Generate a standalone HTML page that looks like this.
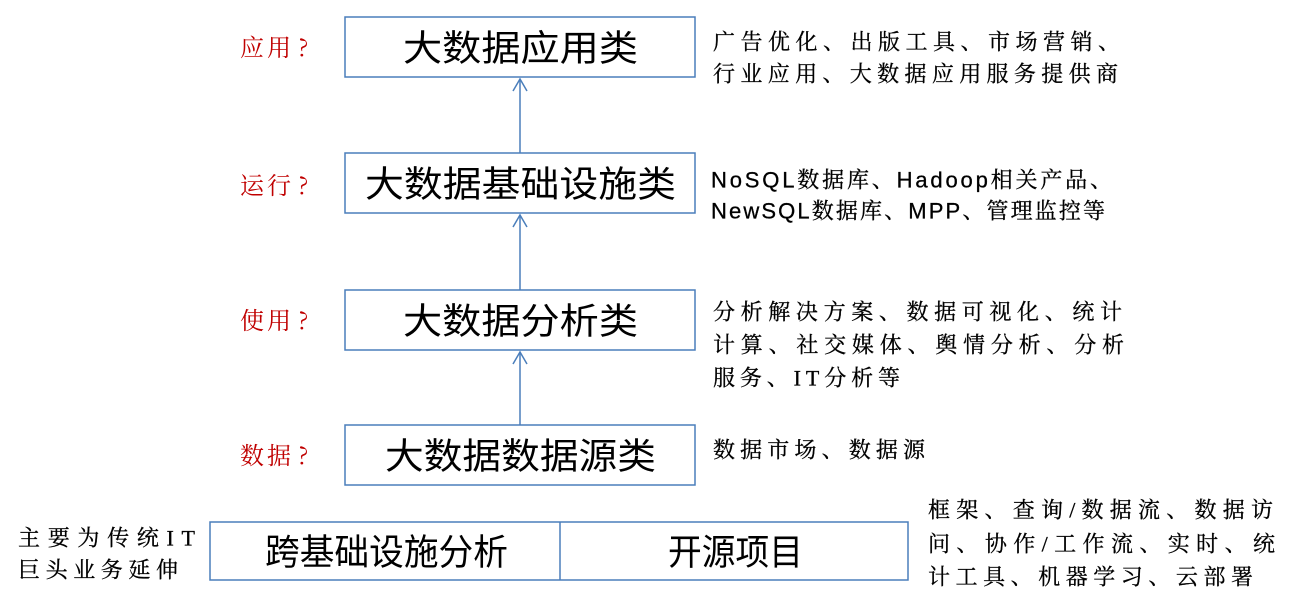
<!DOCTYPE html>
<html><head><meta charset="utf-8"><style>
html,body{margin:0;padding:0;background:#fff;width:1312px;height:599px;overflow:hidden}
svg{display:block}
.s{font-family:"Liberation Serif","Noto Serif CJK SC",serif;font-size:22px;fill:#000;stroke:#000;stroke-width:0.3}
.b{font-family:"Liberation Sans","Noto Sans CJK SC",sans-serif;font-size:36px;fill:#000}
.r{font-family:"Noto Serif CJK SC",serif;font-size:24px;fill:#c00000}
.m{font-family:"Liberation Sans","Noto Serif CJK SC",sans-serif;font-size:22px;fill:#000;stroke:#000;stroke-width:0.3}
</style></head><body>
<svg width="1312" height="599" xmlns="http://www.w3.org/2000/svg">
<g fill="none" stroke="#4a7ebb" stroke-width="1.5">
<rect x="345" y="17" width="350" height="60"/>
<rect x="345" y="153" width="350" height="60"/>
<rect x="345" y="290" width="350" height="60"/>
<rect x="345" y="425" width="350" height="60"/>
<rect x="210" y="522" width="698" height="58"/>
<line x1="560" y1="522" x2="560" y2="580"/>
<line x1="520" y1="153" x2="520" y2="79"/>
<line x1="520" y1="290" x2="520" y2="215"/>
<line x1="520" y1="425" x2="520" y2="352"/>
<polyline points="513,91 520,79 527,91"/>
<polyline points="513,227 520,215 527,227"/>
<polyline points="513,364 520,352 527,364"/>
</g>
<g dominant-baseline="central">
<text class="b" x="403" y="48" textLength="235" lengthAdjust="spacingAndGlyphs">大数据应用类</text>
<text class="b" x="365" y="184" textLength="311" lengthAdjust="spacingAndGlyphs">大数据基础设施类</text>
<text class="b" x="403" y="321" textLength="235" lengthAdjust="spacingAndGlyphs">大数据分析类</text>
<text class="b" x="385" y="456" textLength="271" lengthAdjust="spacingAndGlyphs">大数据数据源类</text>
<text class="b" x="265" y="552" textLength="243" lengthAdjust="spacingAndGlyphs">跨基础设施分析</text>
<text class="b" x="668" y="552" textLength="135" lengthAdjust="spacingAndGlyphs">开源项目</text>
<text class="r" y="45"><tspan x="240">应</tspan><tspan x="267">用</tspan><tspan x="298">?</tspan></text>
<text class="r" y="183"><tspan x="240">运</tspan><tspan x="267">行</tspan><tspan x="298">?</tspan></text>
<text class="r" y="318"><tspan x="240">使</tspan><tspan x="267">用</tspan><tspan x="298">?</tspan></text>
<text class="r" y="453"><tspan x="240">数</tspan><tspan x="267">据</tspan><tspan x="298">?</tspan></text>
<text class="s" x="713" y="42" textLength="407">广告优化、出版工具、市场营销、</text>
<text class="s" x="713" y="74" textLength="405">行业应用、大数据应用服务提供商</text>
<text class="m" x="711" y="180" textLength="401">NoSQL数据库、Hadoop相关产品、</text>
<text class="m" x="711" y="211" textLength="394">NewSQL数据库、MPP、管理监控等</text>
<text class="s" x="713" y="312" textLength="409">分析解决方案、数据可视化、统计</text>
<text class="s" x="713" y="345" textLength="411">计算、社交媒体、舆情分析、分析</text>
<text class="s" x="713" y="378" textLength="187">服务、IT分析等</text>
<text class="s" x="713" y="450" textLength="212">数据市场、数据源</text>
<text class="s" x="928" y="510" textLength="345">框架、查询/数据流、数据访</text>
<text class="s" x="928" y="544" textLength="347">问、协作/工作流、实时、统</text>
<text class="s" x="928" y="577" textLength="325">计工具、机器学习、云部署</text>
<text class="s" x="18" y="538" textLength="177">主要为传统IT</text>
<text class="s" x="18" y="570" textLength="160">巨头业务延伸</text>
</g>
</svg>
</body></html>
